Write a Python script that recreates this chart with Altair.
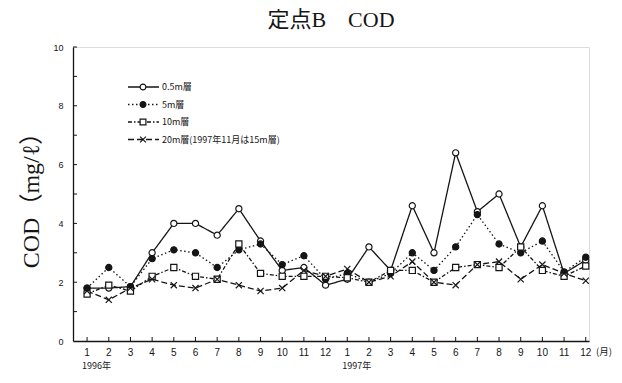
import altair as alt
import pandas as pd

# ---- data ----
months = [1, 2, 3, 4, 5, 6, 7, 8, 9, 10, 11, 12] * 2
year_labels = ["1996年", "1997年"]
series_names = ["0.5m層", "5m層", "10m層", "20m層(1997年11月は15m層)"]

cod_05m = [1.8, 1.8, 1.85, 3.0, 4.0, 4.0, 3.6, 4.5, 3.4, 2.4, 2.5, 1.9,
           2.1, 3.2, 2.4, 4.6, 3.0, 6.4, 4.4, 5.0, 3.2, 4.6, 2.3, 2.75]
cod_5m = [1.8, 2.5, 1.85, 2.8, 3.1, 3.0, 2.5, 3.1, 3.3, 2.6, 2.9, 2.1,
          2.3, 2.0, 2.3, 3.0, 2.4, 3.2, 4.3, 3.3, 3.0, 3.4, 2.35, 2.85]
cod_10m = [1.6, 1.9, 1.7, 2.2, 2.5, 2.2, 2.1, 3.3, 2.3, 2.2, 2.2, 2.2,
           2.15, 2.0, 2.4, 2.4, 2.0, 2.5, 2.6, 2.5, 3.2, 2.4, 2.2, 2.55]
cod_20m = [1.7, 1.4, 1.8, 2.1, 1.9, 1.8, 2.1, 1.9, 1.7, 1.8, 2.4, 2.2,
           2.45, 2.0, 2.2, 2.7, 2.0, 1.9, 2.6, 2.7, 2.1, 2.6, 2.3, 2.05]

y_major = [0, 2, 4, 6, 8, 10]
y_minor = [1, 2, 3, 4, 5, 6, 7, 8, 9, 10]

all_values = [cod_05m, cod_5m, cod_10m, cod_20m]
rows = []
for name, vals in zip(series_names, all_values):
    for i, v in enumerate(vals):
        rows.append({"series": name, "idx": i, "month": months[i], "cod": v})
df = pd.DataFrame(rows)
mdf = pd.DataFrame({"idx": list(range(len(months))), "mlabel": [str(m) for m in months]})

# ---- styles ----
INK = "#151515"
W, H = 516, 294
cross_path = "M-1,-1L1,1M-1,1L1,-1"
dashes = [[1, 0], [1.5, 2.5], [4, 2, 1.5, 2], [6, 3]]
shapes = ["circle", "circle", "square", cross_path]
fills = ["white", INK, "white", "white"]

xscale = alt.Scale(domain=[-0.65, 23.15], nice=False, zero=False)
yscale = alt.Scale(domain=[0, 10], nice=False)

x_enc = alt.X("idx:Q", scale=xscale,
              axis=alt.Axis(values=list(range(24)), labels=False,
                            ticks=False, grid=False, domainColor=INK, domainWidth=1.3,
                            title=None))
y_enc = alt.Y("cod:Q", scale=yscale,
              axis=alt.Axis(values=y_major, ticks=False, grid=False, domainColor=INK,
                            domainWidth=1.3, labelFont="Liberation Sans", labelFontSize=9,
                            labelColor=INK, labelPadding=10, labelFlush=False,
                            title="COD（mg/ℓ）", titleFont="Liberation Serif, Noto Sans CJK JP",
                            titleFontSize=24, titleFontWeight="normal", titleColor=INK,
                            titlePadding=9))

base = alt.Chart(df)

lines = base.mark_line(strokeWidth=1.3, color=INK).encode(
    x=x_enc, y=y_enc,
    strokeDash=alt.StrokeDash("series:N", scale=alt.Scale(domain=series_names, range=dashes), legend=None),
)

points = base.mark_point(size=38, strokeWidth=1.2, opacity=1, color=INK, filled=False).encode(
    x=alt.X("idx:Q", scale=xscale),
    y=alt.Y("cod:Q", scale=yscale),
    shape=alt.Shape("series:N", scale=alt.Scale(domain=series_names, range=shapes), legend=None),
    fill=alt.Fill("series:N", scale=alt.Scale(domain=series_names, range=fills), legend=None),
)

# inward ticks
xt = alt.Chart(mdf).mark_rule(color=INK, strokeWidth=1).encode(
    x=alt.X("idx:Q", scale=xscale), y=alt.value(H), y2=alt.value(H - 4))
yt = alt.Chart(pd.DataFrame({"cod": y_minor})).mark_rule(color=INK, strokeWidth=1).encode(
    y=alt.Y("cod:Q", scale=yscale), x=alt.value(0), x2=alt.value(4))

# month labels
ml = alt.Chart(mdf).mark_text(baseline="top", fontSize=10, font="Liberation Sans", color=INK).encode(
    x=alt.X("idx:Q", scale=xscale), y=alt.value(H + 7), text="mlabel:N")

# year labels
yl = alt.Chart(pd.DataFrame({"idx": [0, 12], "label": year_labels})).mark_text(
    align="left", baseline="top", dx=-5, fontSize=9, font="Noto Sans CJK JP", color=INK).encode(
    x=alt.X("idx:Q", scale=xscale), y=alt.value(H + 21), text="label:N")

unit = alt.Chart(pd.DataFrame({"t": ["(月)"]})).mark_text(
    align="left", baseline="top", fontSize=9.5, font="Noto Sans CJK JP", color=INK).encode(
    x=alt.value(W + 7), y=alt.value(H + 6), text="t:N")

# legend
leg_layers = []
leg_y0, leg_dy = 40, 17.5
for i, name in enumerate(series_names):
    ry = leg_y0 + i * leg_dy
    d = alt.Chart(pd.DataFrame({"label": [name]}))
    leg_layers.append(d.mark_rule(color=INK, strokeWidth=1.3, strokeDash=dashes[i]).encode(
        x=alt.value(55), x2=alt.value(86), y=alt.value(ry)))
    leg_layers.append(d.mark_point(shape=shapes[i], size=34, strokeWidth=1.2, color=INK,
                                   fill=fills[i], filled=False, opacity=1).encode(
        x=alt.value(70), y=alt.value(ry)))
    leg_layers.append(d.mark_text(align="left", baseline="middle", fontSize=9,
                                  font="Noto Sans CJK JP", color=INK).encode(
        x=alt.value(89), y=alt.value(ry), text="label:N"))

chart = alt.layer(lines, points, xt, yt, ml, yl, unit, *leg_layers).properties(
    width=W, height=H,
    title=alt.TitleParams("定点B　COD", font="Liberation Serif, Noto Sans CJK JP", fontSize=22,
                          fontWeight="normal", color=INK, anchor="middle", offset=11),
    autosize=alt.AutoSizeParams(type="none"),
    padding={"left": 65, "top": 39, "right": 25, "bottom": 33},
).configure_view(stroke=None).configure(background="white")

chart.save("out.html", embed_options={"renderer": "svg", "actions": False})
